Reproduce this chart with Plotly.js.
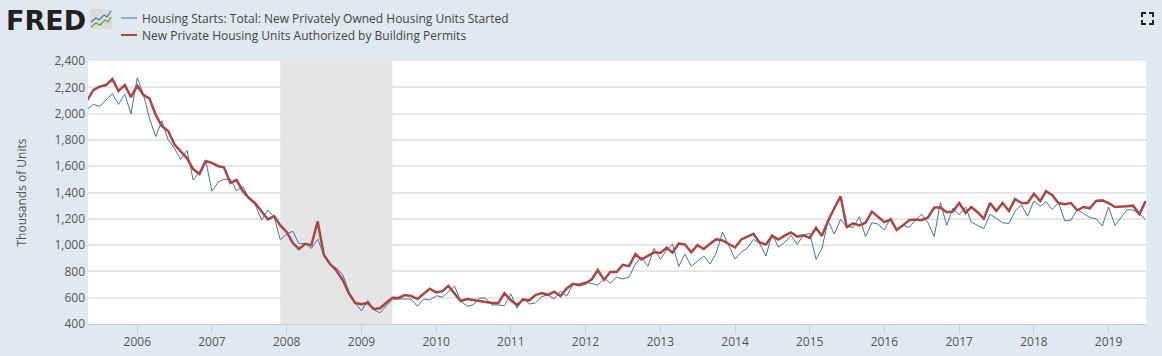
<!DOCTYPE html>
<html><head><meta charset="utf-8">
<script src="https://cdn.plot.ly/plotly-3.0.1.min.js"></script>
<style>html,body{margin:0;padding:0;background:#E1E9F0;overflow:hidden}#c{width:1162px;height:356px}</style>
</head><body><div id="c"></div>
<script>
var months = [];
for (var yy = 2005, mm = 5; yy < 2019 || (yy === 2019 && mm <= 7); ) {
  months.push(yy + '-' + (mm < 10 ? '0' : '') + mm + '-01');
  mm++; if (mm > 12) { mm = 1; yy++; }
}
var starts = [2035,2070,2055,2103,2152,2070,2150,1997,
2273,2140,1967,1825,1945,1800,1737,1653,1722,1495,1555,1647,
1410,1480,1500,1500,1415,1445,1355,1305,1190,1267,1215,1040,
1085,1105,1010,1013,975,1045,925,855,825,775,645,560,
500,580,510,485,537,590,590,590,590,535,590,583,
615,605,645,688,575,535,545,598,595,545,545,540,
630,520,598,552,560,608,622,590,650,613,702,705,
720,704,695,748,710,757,742,757,856,910,838,976,
893,962,1008,838,932,838,880,917,856,940,1100,995,
893,947,975,1043,1012,917,1084,985,1020,1075,1005,1075,
1090,893,970,1185,1084,1195,1140,1135,1215,1064,1170,1160,
1115,1208,1120,1150,1135,1190,1235,1170,1065,1325,1150,1280,
1230,1290,1175,1150,1125,1235,1200,1170,1165,1260,1305,1220,
1335,1295,1330,1270,1325,1185,1190,1270,1240,1210,1200,1145,
1290,1150,1205,1270,1265,1240,1195];
var permits = [2103,2180,2205,2217,2263,2172,2217,2125,
2212,2140,2116,1990,1905,1867,1767,1716,1660,1578,1540,1640,
1625,1600,1592,1472,1495,1410,1358,1318,1260,1195,1220,1150,
1100,1015,970,1010,1000,1180,925,855,805,735,630,560,
550,560,515,520,560,600,598,620,613,590,630,668,
640,650,690,635,575,590,583,580,567,560,560,635,
580,543,585,580,620,635,622,645,613,670,705,695,
710,740,810,735,795,795,850,840,932,890,918,945,
940,980,942,1012,1005,945,1000,970,1010,1045,1035,1012,
982,1043,1063,1085,1020,1005,1070,1043,1072,1097,1065,1075,
1055,1132,1070,1185,1280,1370,1137,1165,1150,1170,1255,1215,
1175,1195,1115,1150,1190,1195,1190,1210,1285,1285,1250,1255,
1320,1245,1290,1250,1200,1320,1260,1320,1260,1350,1320,1320,
1390,1335,1410,1380,1320,1310,1320,1265,1290,1280,1335,1340,
1320,1290,1290,1295,1300,1235,1335];
var yTicks = [400,600,800,1000,1200,1400,1600,1800,2000,2200,2400];
var yearTicks = ['2006','2007','2008','2009','2010','2011','2012','2013','2014','2015','2016','2017','2018','2019'];
var recession = ['2007-12-01','2009-06-01'];
var names = ['Housing Starts: Total: New Privately Owned Housing Units Started','New Private Housing Units Authorized by Building Permits'];
function px(x){return (x-88)/1058;}
function py(y){return (324-y)/263;}
var icon = 'data:image/svg+xml,' + encodeURIComponent('<svg xmlns="http://www.w3.org/2000/svg" width="22" height="20"><rect width="22" height="20" rx="2" fill="#d9dcd9"/><polyline points="1,13 6,9 9,11 14,6 17,8 21,2" fill="none" stroke="#3f78ad" stroke-width="1.2"/><polyline points="1,18 6,14 10,16 15,11 18,13 21,8" fill="none" stroke="#6f9a35" stroke-width="1.2"/></svg>');
var corners = [];
[[1142,13,1,1],[1153,13,-1,1],[1142,24,1,-1],[1153,24,-1,-1]].forEach(function(c){
  corners.push({type:'path',xref:'paper',yref:'paper',
    path:'M '+px(c[0]+4*c[2])+' '+py(c[1])+' L '+px(c[0])+' '+py(c[1])+' L '+px(c[0])+' '+py(c[1]+4*c[3]),
    line:{color:'#222',width:2}});
});
var legendLines = [
 {type:'line',xref:'paper',yref:'paper',x0:px(121),x1:px(137),y0:py(18),y1:py(18),line:{color:'#8FB0D0',width:2}},
 {type:'line',xref:'paper',yref:'paper',x0:px(121),x1:px(137),y0:py(35),y1:py(35),line:{color:'#AA4643',width:2}}
];
Plotly.newPlot('c',[
 {x:months,y:starts,name:names[0],type:'scatter',mode:'lines',line:{color:'#4572A7',width:1},hoverinfo:'skip'},
 {x:months,y:permits,name:names[1],type:'scatter',mode:'lines',line:{color:'#AA4643',width:2.5},hoverinfo:'skip'}
],{
 width:1162,height:356,autosize:false,
 paper_bgcolor:'#E1E9F0',plot_bgcolor:'#FFFFFF',
 margin:{l:88,r:16,t:61,b:32,pad:0},
 font:{family:'"Open Sans",sans-serif',size:12,color:'#555555'},
 showlegend:false,
 xaxis:{type:'date',range:['2005-05-05','2019-07-03'],tickvals:yearTicks.map(function(y){return y+'-01-01';}),ticktext:yearTicks,
   ticks:'outside',ticklen:9,tickcolor:'#C0D0E0',tickwidth:1,showline:true,linecolor:'#C0D0E0',linewidth:1,showgrid:false,zeroline:false,ticklabelstandoff:-2,tickfont:{size:12,color:'#555'}},
 yaxis:{range:[400,2400],tickvals:yTicks,tickformat:',d',showgrid:true,gridcolor:'#E6E6E6',gridwidth:2,zeroline:false,ticks:'',showline:false,ticklabelstandoff:2,
   tickfont:{size:12,color:'#555'},title:{text:'Thousands of Units',font:{size:12,color:'#555'},standoff:25}},
 shapes:[{type:'rect',xref:'x',yref:'paper',x0:recession[0],x1:recession[1],y0:0,y1:1,fillcolor:'#E5E5E5',line:{width:0},layer:'below'}].concat(corners,legendLines),
 annotations:[
  {xref:'paper',yref:'paper',x:px(7),y:py(20),xanchor:'left',yanchor:'middle',xshift:-3,text:'<b>FRED</b>',showarrow:false,font:{family:'DejaVu Sans',size:27,color:'#231F20'}},
  {xref:'paper',yref:'paper',x:px(142),y:py(19),xanchor:'left',yanchor:'middle',xshift:-2,text:names[0],showarrow:false,font:{size:12,color:'#444'}},
  {xref:'paper',yref:'paper',x:px(142),y:py(35),xanchor:'left',yanchor:'middle',xshift:-2,text:names[1],showarrow:false,font:{size:12,color:'#444'}}
 ],
 images:[{source:icon,xref:'paper',yref:'paper',x:px(90),y:py(9),sizex:22/1058,sizey:20/263,xanchor:'left',yanchor:'top',sizing:'stretch',layer:'above'}]
},{displayModeBar:false,responsive:false});
</script></body></html>
